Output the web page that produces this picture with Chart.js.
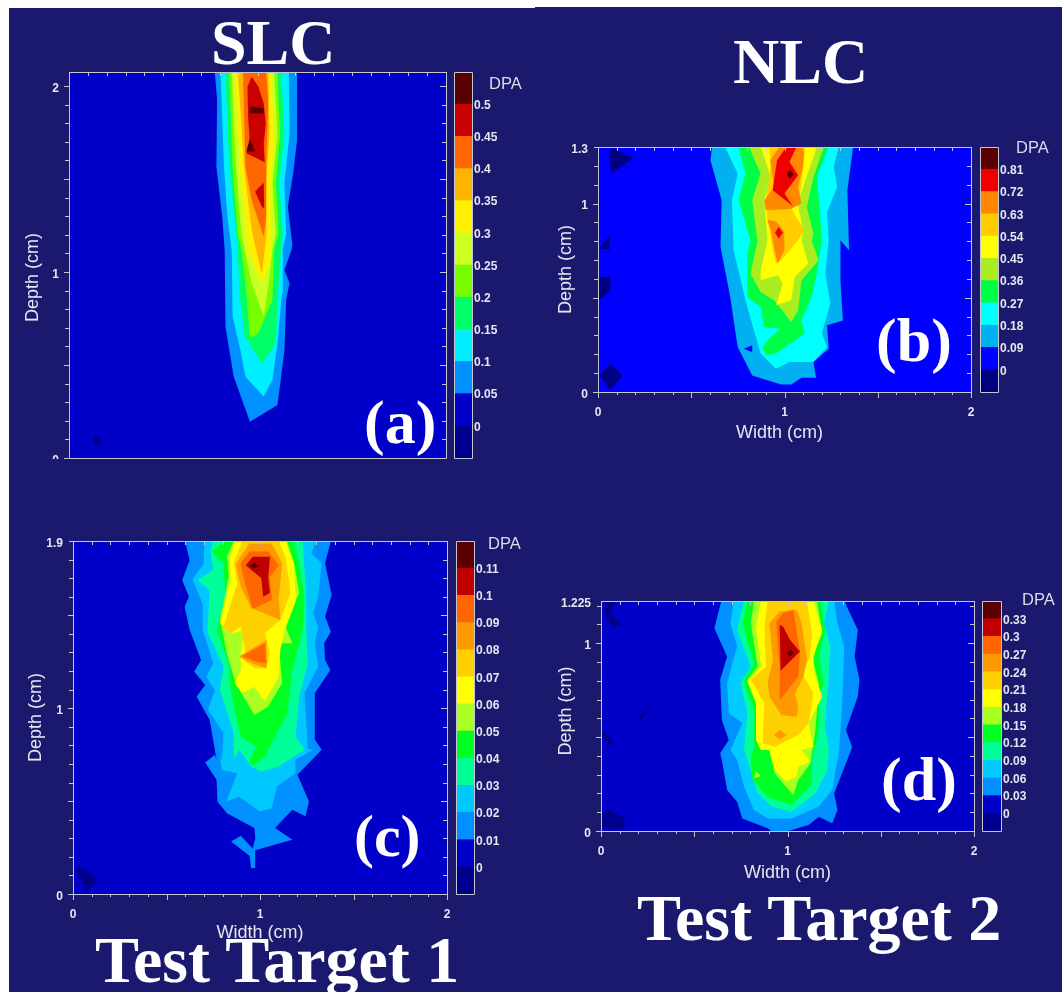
<!DOCTYPE html>
<html>
<head>
<meta charset="utf-8">
<title>DPA contours</title>
<script src="https://cdn.jsdelivr.net/npm/chart.js@4/dist/chart.umd.min.js"></script>
<style>
  html, body { margin: 0; background: #fff; }
  #page { position: relative; width: 1062px; height: 992px; overflow: hidden; background: #fff; }
  #navy { position: absolute; left: 9px; top: 8px; right: 0; bottom: 0; background: #1a196e; }
  #navy2 { position: absolute; left: 535px; top: 7px; width: 527px; height: 10px; background: #1a196e; }
  canvas { position: absolute; }
  .big { position: absolute; font: bold 62px/1 "Liberation Serif", serif; color: #fff; white-space: pre; }
  .dpa { position: absolute; font: 16.5px/1 "Liberation Sans", sans-serif; color: #dcdcea; }
</style>
</head>
<body>
<div id="page"><div id="navy"></div><div id="navy2"></div></div>
<script>
const widthLabels = [0, 1, 2];
const axisGrey = "#c4c6d2";
const labelColor = "#e6e6f0";

// (a) SLC, target 1. Polygons are flat x,y lists in cm
const slcLevels = [-0.05, 0, 0.05, 0.1, 0.15, 0.2, 0.25, 0.3, 0.35, 0.4, 0.45, 0.5, 0.55];
const slcTickLabels = [0, 0.05, 0.1, 0.15, 0.2, 0.25, 0.3, 0.35, 0.4, 0.45, 0.5];
const slcColors = ["#00008c", "#0000c8", "#0090ff", "#00eeff", "#00ff66", "#77ff00", "#ccff22", "#fff000", "#ffb400", "#ff6600", "#c80000", "#5a0000"];
const slcDepthLabels = [0, 1, 2];
const slcLow = [0.135, 0.125, 0.18, 0.085, 0.14, 0.07, 0.13, 0.09];
const slc005 = [0.773, 2.075, 0.786, 1.925, 0.782, 1.566, 0.813, 1.297, 0.826, 1.118, 0.83, 0.706, 0.874, 0.437, 0.96, 0.195, 1.106, 0.285, 1.143, 0.58, 1.152, 0.85, 1.17, 0.94, 1.143, 1.01, 1.18, 1.118, 1.185, 1.145, 1.161, 1.351, 1.189, 1.53, 1.21, 1.71, 1.21, 2.075];
const slc010 = [0.804, 2.075, 0.822, 1.566, 0.84, 1.297, 0.863, 1.118, 0.868, 0.76, 0.905, 0.6, 0.936, 0.437, 1.033, 0.33, 1.079, 0.42, 1.106, 0.616, 1.13, 0.885, 1.134, 1.118, 1.152, 1.208, 1.143, 1.477, 1.17, 1.745, 1.166, 2.075];
const slc015 = [0.83, 2.075, 0.85, 1.566, 0.895, 1.118, 0.905, 0.885, 0.932, 0.652, 1.024, 0.51, 1.097, 0.616, 1.106, 0.85, 1.125, 1.118, 1.134, 1.208, 1.115, 1.477, 1.143, 1.745, 1.125, 2.075];
const slc020 = [0.85, 2.075, 0.868, 1.566, 0.895, 1.208, 0.914, 1.118, 0.941, 0.885, 0.96, 0.643, 1.005, 0.67, 1.079, 0.85, 1.088, 1.118, 1.112, 1.208, 1.097, 1.477, 1.119, 1.745, 1.106, 2.075];
const slc025 = [0.863, 2.075, 0.886, 1.566, 0.914, 1.208, 0.932, 1.118, 0.969, 0.94, 1.033, 0.76, 1.06, 0.94, 1.079, 1.118, 1.097, 1.208, 1.079, 1.477, 1.106, 1.745, 1.088, 2.075];
const slc030 = [0.881, 2.075, 0.905, 1.566, 0.941, 1.208, 0.95, 1.118, 1.024, 0.94, 1.07, 1.065, 1.07, 1.208, 1.07, 1.477, 1.088, 1.745, 1.07, 2.075];
const slc035 = [0.896, 2.075, 0.929, 1.566, 0.969, 1.226, 1.005, 1.065, 1.024, 0.99, 1.038, 1.118, 1.046, 1.19, 1.046, 1.477, 1.064, 1.745, 1.057, 2.075];
const slc040 = [0.923, 2.075, 0.936, 1.566, 0.969, 1.387, 1.033, 1.19, 1.046, 1.297, 1.046, 1.584, 1.057, 1.925, 1.046, 2.075];
const slc045a = [0.969, 2.05, 0.947, 1.996, 0.95, 1.835, 0.96, 1.69, 0.941, 1.638, 1.038, 1.59, 1.033, 1.69, 1.044, 1.8, 1.033, 1.907, 1.005, 1.996];
const slc045b = [0.987, 1.432, 1.033, 1.48, 1.036, 1.35, 1.027, 1.342];
const slc050a = [0.96, 1.889, 0.96, 1.853, 1.033, 1.85, 1.033, 1.88];
const slc050b = [0.96, 1.719, 0.941, 1.647, 0.987, 1.647];

// (b) NLC, target 1
const nlcLevels = [-0.09, 0, 0.09, 0.18, 0.27, 0.36, 0.45, 0.54, 0.63, 0.72, 0.81, 0.9];
const nlcTickLabels = [0, 0.09, 0.18, 0.27, 0.36, 0.45, 0.54, 0.63, 0.72, 0.81];
const nlcColors = ["#000080", "#0000ff", "#00b0f0", "#00ffff", "#00ff44", "#aaee22", "#ffff00", "#ffcc00", "#ff8800", "#ee0000", "#5a0000"];
const nlcDepthLabels = [0, 1, 1.3];
const nlcLowA = [0.071, 1.3, 0.19, 1.24, 0.071, 1.16, 0.06, 1.25];
const nlcLowB = [0.062, 0.832, 0.062, 0.755, 0.007, 0.76];
const nlcLowC = [0.007, 0.61, 0.067, 0.61, 0.067, 0.54, 0.007, 0.487];
const nlcLowD = [0.067, 0.15, 0.13, 0.088, 0.067, 0.009, 0.007, 0.088];
const nlc009 = [0.612, 1.3, 0.603, 1.23, 0.663, 1.018, 0.657, 0.77, 0.709, 0.504, 0.749, 0.239, 0.827, 0.088, 0.982, 0.04, 1.036, 0.04, 1.091, 0.076, 1.169, 0.076, 1.155, 0.159, 1.237, 0.23, 1.228, 0.354, 1.313, 0.38, 1.3, 0.593, 1.3, 0.805, 1.346, 0.752, 1.337, 1.07, 1.368, 1.3];
const nlcHole = [0.781, 0.23, 0.827, 0.248, 0.827, 0.212];
const nlc018 = [0.681, 1.3, 0.749, 1.159, 0.718, 1.018, 0.727, 0.752, 0.8, 0.451, 0.872, 0.204, 0.954, 0.124, 1.027, 0.159, 1.155, 0.159, 1.228, 0.239, 1.2, 0.31, 1.246, 0.469, 1.219, 0.628, 1.237, 0.805, 1.228, 0.952, 1.282, 1.088, 1.264, 1.195, 1.291, 1.3];
const nlc027 = [0.754, 1.3, 0.79, 1.159, 0.754, 1.018, 0.818, 0.805, 0.8, 0.735, 0.8, 0.504, 0.872, 0.451, 0.891, 0.345, 0.978, 0.336, 0.909, 0.274, 0.882, 0.239, 0.9, 0.195, 0.954, 0.204, 1.109, 0.31, 1.091, 0.38, 1.146, 0.504, 1.173, 0.628, 1.2, 0.805, 1.19, 0.952, 1.173, 1.14, 1.237, 1.3];
const nlc036 = [0.809, 1.3, 0.872, 1.159, 0.827, 1.018, 0.855, 0.8, 0.818, 0.628, 0.872, 0.53, 0.945, 0.487, 1.036, 0.372, 1.073, 0.434, 1.091, 0.593, 1.182, 0.699, 1.146, 0.805, 1.155, 0.84, 1.12, 0.98, 1.155, 1.14, 1.21, 1.3];
const nlc045 = [0.872, 1.3, 0.927, 1.14, 0.891, 1.018, 0.909, 0.805, 0.872, 0.637, 0.872, 0.593, 0.964, 0.62, 0.991, 0.575, 0.954, 0.46, 1.036, 0.487, 1.055, 0.611, 1.127, 0.681, 1.091, 0.805, 1.1, 0.858, 1.07, 1.0, 1.137, 1.195, 1.173, 1.3];
const nlc054 = [0.918, 1.3, 0.927, 1.212, 0.9, 1.018, 0.909, 0.912, 0.936, 0.76, 0.954, 0.681, 0.982, 0.699, 1.073, 0.805, 1.106, 0.858, 1.036, 0.973, 1.082, 1.035, 1.109, 1.283, 1.109, 1.3];
const nlc063a = [0.973, 1.3, 0.923, 1.23, 0.945, 1.088, 0.891, 1.018, 0.9, 0.965, 1.036, 0.973, 1.091, 1.0, 1.073, 1.088, 1.1, 1.195, 1.106, 1.3];
const nlc063b = [0.909, 0.912, 0.955, 0.905, 0.998, 0.85, 1.0, 0.755, 0.963, 0.681, 0.945, 0.76, 0.93, 0.85];
const nlc072a = [1.009, 1.3, 0.96, 1.23, 0.936, 1.071, 1.046, 0.986, 1.0, 1.053, 1.073, 1.15, 1.027, 1.221, 1.064, 1.3];
const nlc072b = [0.969, 0.875, 0.991, 0.845, 0.969, 0.814, 0.949, 0.845];
const nlc081 = [1.03, 1.176, 1.05, 1.155, 1.03, 1.133, 1.012, 1.155];

// (c) SLC, target 2
const slc2Levels = [-0.01, 0, 0.01, 0.02, 0.03, 0.04, 0.05, 0.06, 0.07, 0.08, 0.09, 0.1, 0.11, 0.12];
const slc2TickLabels = [0, 0.01, 0.02, 0.03, 0.04, 0.05, 0.06, 0.07, 0.08, 0.09, 0.1, 0.11];
const slc2Colors = ["#00008c", "#0000c8", "#0090ff", "#00c8ff", "#00ff99", "#00ff22", "#aaff22", "#ffff00", "#ffd000", "#ff9900", "#ff6600", "#c00000", "#5a0000"];
const slc2DepthLabels = [0, 1, 1.9];
const slc2Low = [0.022, 0.148, 0.077, 0.13, 0.133, 0.073, 0.068, 0.014, 0.05, 0.059, 0.013, 0.14];
const slc2001 = [0.599, 1.9, 0.624, 1.797, 0.584, 1.69, 0.62, 1.6, 0.597, 1.547, 0.624, 1.421, 0.685, 1.26, 0.648, 1.197, 0.707, 1.125, 0.661, 1.063, 0.731, 0.937, 0.768, 0.722, 0.759, 0.749, 0.707, 0.708, 0.768, 0.615, 0.772, 0.498, 0.823, 0.435, 0.97, 0.355, 0.975, 0.3, 0.961, 0.245, 0.897, 0.314, 0.845, 0.283, 0.945, 0.205, 0.952, 0.14, 0.974, 0.14, 0.974, 0.235, 1.173, 0.292, 1.081, 0.355, 1.173, 0.453, 1.243, 0.418, 1.262, 0.498, 1.2, 0.642, 1.33, 0.776, 1.293, 0.83, 1.293, 1.08, 1.376, 1.206, 1.348, 1.26, 1.343, 1.35, 1.379, 1.412, 1.348, 1.493, 1.383, 1.61, 1.348, 1.78, 1.379, 1.9];
const slc2002 = [0.703, 1.9, 0.698, 1.775, 0.639, 1.695, 0.694, 1.56, 0.694, 1.421, 0.75, 1.242, 0.713, 1.17, 0.759, 1.098, 0.722, 0.991, 0.805, 0.866, 0.796, 0.722, 0.786, 0.74, 0.796, 0.668, 0.878, 0.65, 0.82, 0.498, 0.888, 0.525, 0.998, 0.444, 1.063, 0.462, 1.09, 0.579, 1.19, 0.65, 1.19, 0.722, 1.284, 0.776, 1.256, 0.78, 1.247, 0.937, 1.238, 1.08, 1.311, 1.224, 1.293, 1.35, 1.311, 1.439, 1.284, 1.51, 1.311, 1.6, 1.33, 1.78, 1.274, 1.833, 1.302, 1.9];
const slc2003 = [0.75, 1.9, 0.735, 1.843, 0.75, 1.744, 0.667, 1.69, 0.731, 1.635, 0.722, 1.475, 0.722, 1.403, 0.805, 1.224, 0.786, 1.098, 0.814, 1.009, 0.86, 0.866, 0.86, 0.722, 0.888, 0.776, 0.952, 0.686, 1.007, 0.66, 1.1, 0.686, 1.238, 0.776, 1.19, 0.848, 1.21, 1.063, 1.256, 1.242, 1.247, 1.421, 1.247, 1.6, 1.238, 1.744, 1.228, 1.9];
const slc2004 = [0.814, 1.9, 0.74, 1.843, 0.805, 1.78, 0.814, 1.6, 0.768, 1.421, 0.832, 1.242, 0.842, 1.116, 0.86, 1.009, 0.897, 0.848, 0.98, 0.79, 0.943, 0.713, 0.96, 0.69, 1.03, 0.74, 1.044, 0.776, 1.109, 0.9, 1.146, 0.973, 1.173, 1.206, 1.228, 1.421, 1.238, 1.6, 1.21, 1.78, 1.182, 1.9];
const slc2005 = [0.86, 1.9, 0.823, 1.815, 0.832, 1.708, 0.786, 1.475, 0.823, 1.296, 0.869, 1.134, 0.943, 1.009, 0.97, 0.964, 1.044, 1.009, 1.118, 1.134, 1.1, 1.35, 1.173, 1.35, 1.136, 1.439, 1.192, 1.58, 1.21, 1.623, 1.182, 1.78, 1.145, 1.9];
const slc2006 = [0.869, 1.9, 0.838, 1.815, 0.842, 1.69, 0.786, 1.457, 0.86, 1.403, 0.915, 1.421, 0.897, 1.296, 0.897, 1.206, 0.864, 1.134, 0.906, 1.08, 0.97, 1.116, 1.026, 1.036, 1.1, 1.17, 1.109, 1.314, 1.127, 1.403, 1.192, 1.58, 1.182, 1.78, 1.136, 1.9];
const slc2007 = [0.906, 1.9, 0.86, 1.78, 0.878, 1.672, 0.805, 1.439, 0.842, 1.403, 0.897, 1.439, 0.924, 1.296, 0.888, 1.278, 0.97, 1.215, 1.035, 1.215, 1.053, 1.296, 1.026, 1.403, 1.109, 1.475, 1.164, 1.623, 1.136, 1.815, 1.1, 1.9];
const slc2008a = [0.943, 1.887, 0.87, 1.775, 0.897, 1.657, 0.952, 1.54, 1.109, 1.475, 1.1, 1.585, 1.118, 1.78, 1.063, 1.887];
const slc2008b = [0.888, 1.278, 1.035, 1.367, 1.035, 1.215, 0.97, 1.235];
const slc2009a = [0.943, 1.843, 0.896, 1.78, 0.915, 1.69, 0.961, 1.534, 1.063, 1.582, 1.053, 1.708, 1.1, 1.77, 1.044, 1.843];
const slc2009b = [0.906, 1.281, 1.026, 1.35, 1.035, 1.242, 0.98, 1.25];
const slc2010 = [0.961, 1.815, 0.924, 1.77, 1.007, 1.7, 1.017, 1.6, 1.053, 1.62, 1.044, 1.7, 1.053, 1.815];
const slc2011 = [0.967, 1.783, 0.998, 1.765, 0.967, 1.753, 0.943, 1.765];

// (d) NLC, target 2
const nlc2Levels = [-0.03, 0, 0.03, 0.06, 0.09, 0.12, 0.15, 0.18, 0.21, 0.24, 0.27, 0.3, 0.33, 0.36];
const nlc2TickLabels = [0, 0.03, 0.06, 0.09, 0.12, 0.15, 0.18, 0.21, 0.24, 0.27, 0.3, 0.33];
const nlc2Colors = ["#00008c", "#0000c8", "#0090ff", "#00ccff", "#00ff99", "#00ff22", "#aaff22", "#ffff00", "#ffd000", "#ff9900", "#ff6600", "#c00000", "#5a0000"];
const nlc2DepthLabels = [0, 1, 1.225];
const nlc2LowA = [0.02, 1.22, 0.08, 1.22, 0.05, 1.16, 0.12, 1.09, 0.06, 1.09, 0.02, 1.15];
const nlc2LowB = [0.2, 0.613, 0.275, 0.66, 0.21, 0.59];
const nlc2LowC = [0.002, 0.54, 0.065, 0.48, 0.056, 0.45, 0.002, 0.5];
const nlc2LowD = [0.002, 0.094, 0.047, 0.112, 0.13, 0.068, 0.12, 0.014, 0.04, 0.005, 0.002, 0.023];
const nlc2003 = [0.645, 1.225, 0.608, 1.08, 0.676, 0.93, 0.639, 0.805, 0.648, 0.591, 0.685, 0.485, 0.639, 0.414, 0.648, 0.378, 0.676, 0.218, 0.73, 0.156, 0.758, 0.067, 0.894, 0.014, 0.913, 0, 1.004, 0, 1.113, 0.032, 1.168, 0.076, 1.24, 0.041, 1.268, 0.112, 1.25, 0.2, 1.341, 0.432, 1.346, 0.449, 1.313, 0.538, 1.377, 0.716, 1.386, 0.805, 1.36, 0.929, 1.377, 1.07, 1.304, 1.225];
const nlc2006 = [0.712, 1.225, 0.694, 1.107, 0.73, 0.982, 0.676, 0.787, 0.685, 0.629, 0.758, 0.574, 0.694, 0.432, 0.73, 0.378, 0.767, 0.236, 0.82, 0.112, 0.894, 0.067, 1.022, 0.067, 1.168, 0.13, 1.24, 0.218, 1.277, 0.432, 1.295, 0.716, 1.304, 0.982, 1.268, 1.107, 1.25, 1.225];
const nlc2009 = [0.767, 1.225, 0.73, 1.07, 0.803, 0.876, 0.749, 0.787, 0.785, 0.629, 0.767, 0.432, 0.785, 0.378, 0.84, 0.2, 0.913, 0.13, 1.022, 0.103, 1.15, 0.2, 1.213, 0.325, 1.222, 0.432, 1.2, 0.56, 1.213, 0.716, 1.231, 0.982, 1.195, 1.107, 1.222, 1.225];
const nlc2012 = [0.785, 1.225, 0.758, 1.107, 0.821, 0.893, 0.763, 0.796, 0.821, 0.645, 0.821, 0.449, 0.803, 0.378, 0.812, 0.272, 0.894, 0.183, 1.022, 0.139, 1.131, 0.254, 1.131, 0.378, 1.168, 0.538, 1.168, 0.716, 1.195, 0.787, 1.168, 0.929, 1.204, 1.07, 1.177, 1.225];
const nlc2015a = [0.821, 1.225, 0.803, 1.107, 0.84, 0.876, 0.785, 0.805, 0.84, 0.663, 0.849, 0.449, 0.903, 0.432, 0.931, 0.307, 0.976, 0.254, 1.031, 0.192, 1.058, 0.272, 1.122, 0.36, 1.15, 0.538, 1.168, 0.787, 1.131, 0.929, 1.186, 1.053, 1.158, 1.225];
const nlc2015b = [0.821, 0.281, 0.83, 0.32, 0.858, 0.293];
const nlc2018 = [0.858, 1.225, 0.831, 1.089, 0.858, 0.876, 0.785, 0.796, 0.831, 0.68, 0.831, 0.485, 0.858, 0.432, 0.903, 0.432, 0.931, 0.325, 0.995, 0.263, 1.049, 0.29, 1.058, 0.343, 1.122, 0.37, 1.076, 0.432, 1.14, 0.449, 1.113, 0.574, 1.186, 0.716, 1.14, 0.85, 1.14, 0.929, 1.186, 1.07, 1.14, 1.225];
const nlc2021 = [0.894, 1.225, 0.876, 1.089, 0.885, 0.876, 0.803, 0.805, 0.876, 0.68, 0.867, 0.467, 0.931, 0.449, 1.058, 0.511, 1.113, 0.574, 1.14, 0.734, 1.076, 0.84, 1.12, 0.92, 1.131, 1.053, 1.104, 1.225];
const nlc2024a = [0.958, 1.169, 0.903, 1.107, 0.922, 0.911, 0.894, 0.796, 0.903, 0.716, 0.967, 0.618, 1.049, 0.609, 1.058, 0.663, 1.04, 0.73, 1.085, 0.82, 1.104, 0.911, 1.076, 1.107, 1.049, 1.178];
const nlc2024b = [0.927, 0.511, 0.958, 0.538, 0.995, 0.511, 0.958, 0.488];
const nlc2027 = [0.976, 1.16, 0.94, 1.115, 0.958, 0.867, 0.958, 0.698, 1.058, 0.822, 1.067, 0.956, 1.04, 1.124, 1.031, 1.178];
const nlc2030 = [0.958, 1.098, 0.963, 0.854, 1.067, 0.956, 1.013, 1.018, 0.976, 1.089];
const nlc2033 = [0.995, 0.95, 1.02, 0.965, 1.033, 0.947, 1.015, 0.93];

// band index is position in the matching colour list, drawn in this order
const slcShapes = [[slcLow, 0], [slc005, 2], [slc010, 3], [slc015, 4], [slc020, 5], [slc025, 6], [slc030, 7], [slc035, 8], [slc040, 9], [slc045a, 10], [slc045b, 10], [slc050a, 11], [slc050b, 11]];
const nlcShapes = [[nlcLowA, 0], [nlcLowB, 0], [nlcLowC, 0], [nlcLowD, 0], [nlc009, 2], [nlcHole, 1], [nlc018, 3], [nlc027, 4], [nlc036, 5], [nlc045, 6], [nlc054, 7], [nlc063a, 8], [nlc063b, 8], [nlc072a, 9], [nlc072b, 9], [nlc081, 10]];
const slc2Shapes = [[slc2Low, 0], [slc2001, 2], [slc2002, 3], [slc2003, 4], [slc2004, 5], [slc2005, 6], [slc2006, 7], [slc2007, 8], [slc2008a, 9], [slc2008b, 9], [slc2009a, 10], [slc2009b, 10], [slc2010, 11], [slc2011, 12]];
const nlc2Shapes = [[nlc2LowA, 0], [nlc2LowB, 0], [nlc2LowC, 0], [nlc2LowD, 0], [nlc2003, 2], [nlc2006, 3], [nlc2009, 4], [nlc2012, 5], [nlc2015a, 6], [nlc2015b, 6], [nlc2018, 7], [nlc2021, 8], [nlc2024a, 9], [nlc2024b, 9], [nlc2027, 10], [nlc2030, 11], [nlc2033, 12]];

const pad = 24;
const nb = "\u00a0";

function pairs(flat) {
  const pts = [];
  for (let i = 0; i < flat.length; i += 2) pts.push({ x: flat[i], y: flat[i + 1] });
  return pts;
}

function steps(max) {
  const out = [];
  for (let i = 0; i * 0.1 <= max + 0.001; i++) out.push(i);
  return out;
}

// the mirrored tick marks and the frame, placed through the scales
const frameTicks = {
  id: "frameTicks",
  afterDraw(chart, args, opts) {
    const { ctx, chartArea: a, scales } = chart;
    ctx.save();
    ctx.strokeStyle = axisGrey;
    ctx.lineWidth = 1;
    ctx.beginPath();
    if (scales.x && !opts.bar) {
      for (const i of steps(scales.x.max)) {
        const px = Math.round(scales.x.getPixelForValue(i * 0.1)) + 0.5;
        const major = i % 5 === 0;
        ctx.moveTo(px, a.top);
        ctx.lineTo(px, a.top + 4);
        if (!opts.noBottom) {
          ctx.moveTo(px, a.bottom);
          ctx.lineTo(px, a.bottom + (major ? 6 : 3));
        }
      }
      for (const i of steps(scales.y.max)) {
        const py = Math.round(scales.y.getPixelForValue(i * 0.1)) + 0.5;
        const major = i % 5 === 0;
        ctx.moveTo(a.left, py);
        ctx.lineTo(a.left - (major ? 5 : 4), py);
        ctx.moveTo(a.right, py);
        ctx.lineTo(a.right - (major ? 6 : 4), py);
      }
    }
    ctx.rect(Math.round(a.left) + 0.5, Math.round(a.top) + 0.5, Math.round(a.right - a.left), Math.round(a.bottom - a.top));
    ctx.stroke();
    ctx.restore();
  }
};

function addCanvas(left, top, width, height, clipBottom) {
  const c = document.createElement("canvas");
  c.width = width;
  c.height = height;
  c.style.left = left + "px";
  c.style.top = top + "px";
  c.style.width = width + "px";
  c.style.height = height + "px";
  if (clipBottom) c.style.clipPath = "inset(0 0 " + clipBottom + "px 0)";
  document.getElementById("page").appendChild(c);
  return c;
}

function contourChart(cfg) {
  const [l, t, r, b] = cfg.box;
  const showX = cfg.showX;
  const h = showX ? cfg.xTitle : 0;
  const c = addCanvas(l - cfg.yTitle, t - pad, r - l + cfg.yTitle + pad, b - t + 2 * pad + h, showX ? 0 : pad - 1);
  const floor = [0, cfg.yMax, 2, cfg.yMax, 2, 0, 0, 0];
  const shapes = [[floor, 1]].concat(cfg.shapes);
  const datasets = shapes.map(([flat, band]) => ({
    data: pairs(flat),
    showLine: true,
    fill: "shape",
    tension: 0,
    borderWidth: 0,
    pointRadius: 0,
    backgroundColor: cfg.colors[band]
  })).reverse();
  new Chart(c, {
    type: "scatter",
    data: { datasets },
    plugins: [frameTicks],
    options: {
      responsive: false,
      animation: false,
      events: [],
      layout: { padding: { top: pad, right: pad, bottom: pad, left: 0 } },
      plugins: { legend: { display: false }, tooltip: { enabled: false }, frameTicks: { noBottom: !showX } },
      scales: {
        x: {
          type: "linear",
          display: showX,
          min: 0,
          max: 2,
          afterBuildTicks: s => { s.ticks = widthLabels.map(v => ({ value: v })); },
          afterFit: s => { s.height = h; },
          grid: { display: false, drawTicks: false },
          border: { display: false },
          ticks: { color: labelColor, padding: 13, maxRotation: 0, autoSkip: false, font: { family: "Liberation Sans", size: 12, weight: "bold" }, callback: v => String(v) },
          title: { display: true, text: "Width (cm)" + (cfg.xPad || ""), color: labelColor, padding: 0, font: { family: "Liberation Sans", size: 18 } }
        },
        y: {
          type: "linear",
          min: 0,
          max: cfg.yMax,
          afterBuildTicks: s => { s.ticks = cfg.depthLabels.map(v => ({ value: v })); },
          afterFit: s => { s.width = cfg.yTitle; },
          grid: { display: false, drawTicks: false },
          border: { display: false },
          // blank first line nudges the label a little below its tick
          ticks: { color: labelColor, padding: 10, autoSkip: false, font: { family: "Liberation Sans", size: 12, weight: "bold", lineHeight: 0.4 }, callback: v => ["", String(v)] },
          title: { display: true, text: (cfg.yLead || "") + "Depth (cm)" + (cfg.yTrail || ""), color: labelColor, padding: 0, font: { family: "Liberation Sans", size: 18 } }
        }
      }
    }
  });
}

function colorBar(cfg) {
  const [l, t, r, b] = cfg.box;
  const c = addCanvas(l, t - pad, r - l + 36, b - t + 2 * pad);
  const levels = cfg.levels;
  const datasets = cfg.colors.map((color, i) => ({
    data: [[levels[i], levels[i + 1]]],
    backgroundColor: color,
    borderWidth: 0,
    grouped: false,
    barPercentage: 1,
    categoryPercentage: 1
  }));
  new Chart(c, {
    type: "bar",
    data: { labels: ["DPA"], datasets },
    plugins: [frameTicks],
    options: {
      responsive: false,
      animation: false,
      events: [],
      layout: { padding: { top: pad, bottom: pad, left: 0, right: 0 } },
      plugins: { legend: { display: false }, tooltip: { enabled: false }, frameTicks: { bar: true } },
      scales: {
        x: { display: false },
        y: {
          position: "right",
          min: levels[0],
          max: levels[levels.length - 1],
          afterBuildTicks: s => { s.ticks = cfg.tickLabels.map(v => ({ value: v })); },
          afterFit: s => { s.width = 36; },
          grid: { display: false, drawTicks: false },
          border: { display: false },
          ticks: { color: labelColor, padding: 2, autoSkip: false, font: { family: "Liberation Sans", size: 12, weight: "bold", lineHeight: 0.25 }, callback: v => ["", String(v)] }
        }
      }
    }
  });
}

function bigText(text, left, top, size) {
  const d = document.createElement("div");
  d.className = "big";
  d.textContent = text;
  d.style.left = left + "px";
  d.style.top = top + "px";
  if (size) d.style.fontSize = size + "px";
  document.getElementById("page").appendChild(d);
}

function dpaLabel(left, baseline) {
  const d = document.createElement("div");
  d.className = "dpa";
  d.textContent = "DPA";
  d.style.left = left + "px";
  d.style.top = (baseline - 14) + "px";
  document.getElementById("page").appendChild(d);
}

contourChart({ box: [69, 72, 446, 458], yMax: 2.075, yTitle: 47, showX: false, yTrail: nb.repeat(5), colors: slcColors, shapes: slcShapes, depthLabels: slcDepthLabels });
colorBar({ box: [454, 72, 472, 458], levels: slcLevels, colors: slcColors, tickLabels: slcTickLabels });
dpaLabel(489, 89);

contourChart({ box: [598, 147, 971, 392], yMax: 1.3, yTitle: 43, xTitle: 52, xPad: nb.repeat(2), showX: true, colors: nlcColors, shapes: nlcShapes, depthLabels: nlcDepthLabels });
colorBar({ box: [980, 147, 998, 392], levels: nlcLevels, colors: nlcColors, tickLabels: nlcTickLabels });
dpaLabel(1016, 153);

contourChart({ box: [73, 541, 447, 894], yMax: 1.9, yTitle: 48, xTitle: 50, showX: true, colors: slc2Colors, shapes: slc2Shapes, depthLabels: slc2DepthLabels });
colorBar({ box: [456, 541, 474, 894], levels: slc2Levels, colors: slc2Colors, tickLabels: slc2TickLabels });
dpaLabel(488, 549);

contourChart({ box: [601, 601, 974, 831], yMax: 1.225, yTitle: 46, xTitle: 53, yLead: nb.repeat(2), showX: true, colors: nlc2Colors, shapes: nlc2Shapes, depthLabels: nlc2DepthLabels });
colorBar({ box: [982, 601, 1001, 831], levels: nlc2Levels, colors: nlc2Colors, tickLabels: nlc2TickLabels });
dpaLabel(1022, 605);

bigText("SLC", 211, 11, 64);
bigText("NLC", 733, 30, 64);
bigText("Test Target 1", 95, 927, 66);
bigText("Test Target 2", 637, 885, 66);
bigText("(a)", 364, 391);
bigText("(b)", 876, 309);
bigText("(c)", 354, 806, 60);
bigText("(d)", 881, 748);
</script>
</body>
</html>
